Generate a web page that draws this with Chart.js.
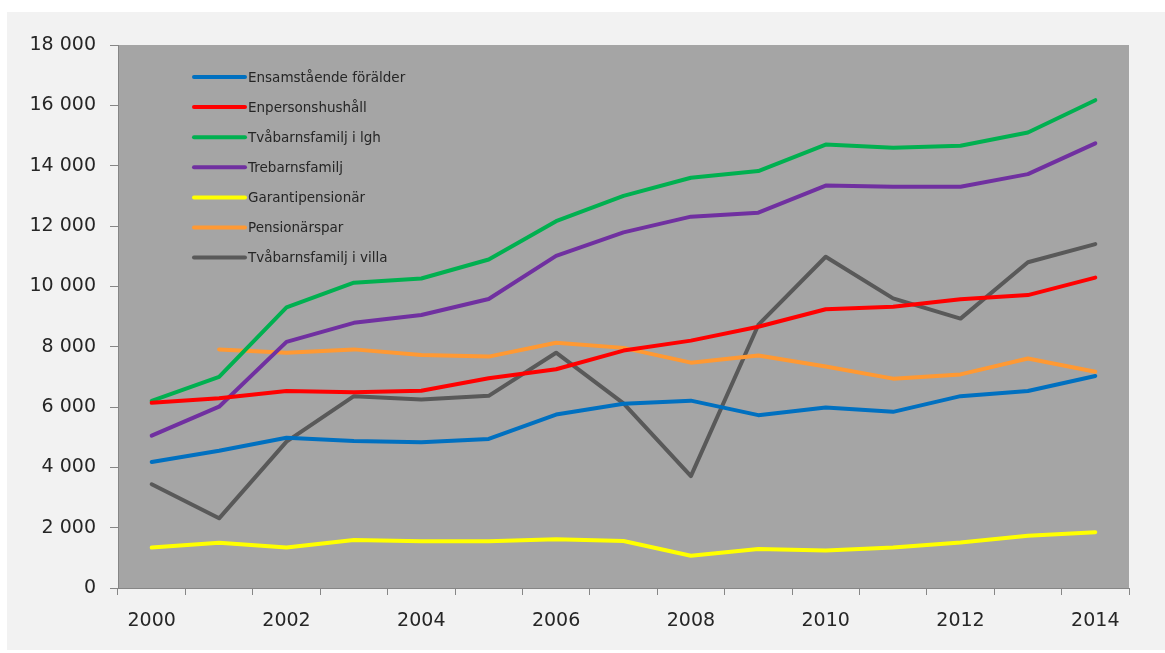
<!DOCTYPE html>
<html>
<head>
<meta charset="utf-8">
<script src="https://cdn.jsdelivr.net/npm/chart.js@4.4.1/dist/chart.umd.min.js"></script>
<style>
  html, body { margin: 0; padding: 0; background: #ffffff; }
  #wrap { width: 1165px; height: 653px; }
</style>
</head>
<body>
<div id="wrap"><canvas id="c" width="1165" height="653"></canvas></div>
<script>
const years = ['2000','2001','2002','2003','2004','2005','2006','2007','2008','2009','2010','2011','2012','2013','2014'];

const ensamstaende   = [4180, 4550, 4980, 4870, 4830, 4940, 5750, 6110, 6210, 5730, 5980, 5840, 6360, 6530, 7030];
const enperson       = [6140, 6290, 6530, 6490, 6540, 6950, 7250, 7870, 8200, 8660, 9240, 9320, 9570, 9710, 10290];
const tvabarnLgh     = [6200, 7000, 9300, 10120, 10260, 10890, 12160, 13000, 13600, 13820, 14700, 14590, 14660, 15100, 16170];
const trebarn        = [5050, 6010, 8160, 8790, 9050, 9580, 11010, 11790, 12310, 12440, 13340, 13300, 13300, 13720, 14740];
const garanti        = [1340, 1500, 1340, 1590, 1550, 1550, 1620, 1560, 1070, 1290, 1240, 1340, 1510, 1730, 1850];
const pensionarspar  = [null, 7910, 7800, 7910, 7720, 7670, 8130, 7960, 7470, 7710, 7340, 6940, 7080, 7610, 7170];
const tvabarnVilla   = [3440, 2310, 4850, 6360, 6250, 6370, 7800, 6120, 3710, 8720, 10980, 9600, 8930, 10800, 11400];

const seriesNames  = ['Ensamstående förälder','Enpersonshushåll','Tvåbarnsfamilj i lgh','Trebarnsfamilj','Garantipensionär','Pensionärspar','Tvåbarnsfamilj i villa'];
const seriesData   = [ensamstaende, enperson, tvabarnLgh, trebarn, garanti, pensionarspar, tvabarnVilla];
const seriesColors = ['#0070c0','#ff0000','#00b050','#7030a0','#ffff00','#ff9933','#595959'];

const yMin = 0, yMax = 18000, yStep = 2000;

const FONT = '"DejaVu Sans", "Liberation Sans", sans-serif';
const AXIS = '#868686';
const TEXT = '#262626';

const bgPlugin = {
  id: 'bg',
  beforeDraw(chart) {
    const ctx = chart.ctx;
    const a = chart.chartArea;
    ctx.save();
    ctx.fillStyle = '#ffffff';
    ctx.fillRect(0, 0, chart.width, chart.height);
    ctx.fillStyle = '#f2f2f2';
    ctx.fillRect(7, 12, chart.width - 7, 638);
    ctx.fillStyle = '#a5a5a5';
    ctx.fillRect(a.left, a.top, a.right - a.left, a.bottom - a.top);
    ctx.restore();
  }
};

const legendPlugin = {
  id: 'innerLegend',
  afterDatasetsDraw(chart) {
    const ctx = chart.ctx;
    const a = chart.chartArea;
    const x0 = a.left + 76, y0 = a.top + 32, gap = 30.1, len = 51;
    ctx.save();
    ctx.font = '13.5px ' + FONT;
    ctx.textBaseline = 'middle';
    ctx.textAlign = 'left';
    chart.data.datasets.forEach((ds, i) => {
      const y = y0 + i * gap;
      ctx.strokeStyle = ds.borderColor;
      ctx.lineWidth = 4;
      ctx.lineCap = 'round';
      ctx.beginPath();
      ctx.moveTo(x0, y);
      ctx.lineTo(x0 + len, y);
      ctx.stroke();
      ctx.fillStyle = TEXT;
      ctx.fillText(ds.label, x0 + len + 3, y + 1);
    });
    ctx.restore();
  }
};

function fmt(v) {
  return String(v).replace(/\B(?=(\d{3})+(?!\d))/g, ' ');
}

new Chart(document.getElementById('c'), {
  type: 'line',
  data: {
    labels: years,
    datasets: seriesNames.map((name, i) => ({
      label: name,
      data: seriesData[i],
      borderColor: seriesColors[i],
      backgroundColor: seriesColors[i],
      borderWidth: 4,
      pointRadius: 0,
      pointHoverRadius: 0,
      tension: 0,
      borderCapStyle: 'round',
      borderJoinStyle: 'round',
      fill: false
    }))
  },
  options: {
    responsive: false,
    animation: false,
    events: [],
    layout: { padding: { left: 0, top: 45, right: 36, bottom: 0 } },
    plugins: {
      legend: { display: false },
      tooltip: { enabled: false },
      title: { display: false }
    },
    scales: {
      x: {
        type: 'category',
        offset: true,
        grid: {
          offset: true,
          drawOnChartArea: false,
          drawTicks: true,
          tickLength: 7,
          tickColor: AXIS,
          tickWidth: 1
        },
        border: { color: AXIS, width: 1 },
        ticks: {
          autoSkip: false,
          maxRotation: 0,
          minRotation: 0,
          padding: 15,
          color: TEXT,
          font: { family: FONT, size: 19 },
          callback: function(value, index) {
            return index % 2 === 0 ? this.getLabelForValue(value) : '';
          }
        },
        afterFit(scale) { scale.height = 65; }
      },
      y: {
        min: yMin,
        max: yMax,
        grid: {
          drawOnChartArea: false,
          drawTicks: true,
          tickLength: 8,
          tickColor: AXIS,
          tickWidth: 1
        },
        border: { color: AXIS, width: 1 },
        ticks: {
          stepSize: yStep,
          padding: 14,
          color: TEXT,
          font: { family: FONT, size: 19 },
          callback: (v) => fmt(v)
        },
        afterFit(scale) { scale.width = 118; }
      }
    }
  },
  plugins: [bgPlugin, legendPlugin]
});
</script>
</body>
</html>
